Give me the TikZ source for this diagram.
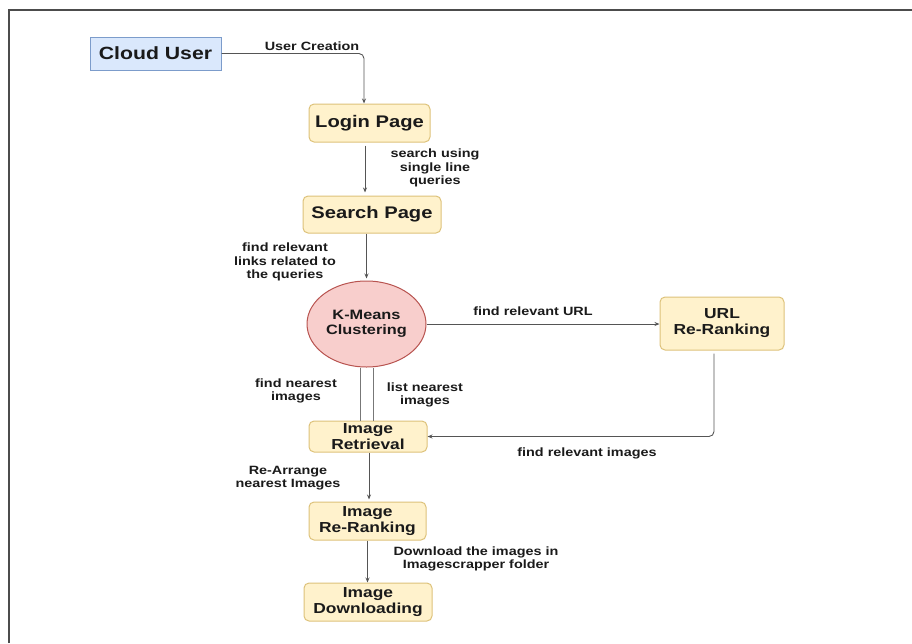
\documentclass[tikz,border=0pt]{standalone}
\usepackage{fontspec}
\setmainfont{Liberation Sans}[FakeStretch=1.2]
\usetikzlibrary{arrows.meta, shapes.geometric}

\definecolor{userfill}{HTML}{DAE8FC}
\definecolor{userline}{HTML}{7C9CCB}
\definecolor{pagefill}{HTML}{FFF2CC}
\definecolor{pageline}{HTML}{DDC27A}
\definecolor{clusterfill}{HTML}{F8CECC}
\definecolor{clusterline}{HTML}{B85450}
\definecolor{flowline}{HTML}{555555}
\definecolor{inktext}{HTML}{1A1A1A}

\begin{document}
\begin{tikzpicture}[x=1pt, y=-1pt,
  userbox/.style={draw=userline, fill=userfill, line width=1pt, text=inktext,
    font=\fontsize{17.7}{20}\selectfont\bfseries},
  pagebox/.style={draw=pageline, fill=pagefill, line width=1pt, rounded corners=5pt,
    align=center, text=inktext, font=\fontsize{14.5}{16}\selectfont\bfseries},
  bigpage/.style={pagebox, font=\fontsize{16.8}{19}\selectfont\bfseries},
  cluster/.style={ellipse, draw=clusterline, fill=clusterfill, line width=1pt,
    align=center, text=inktext, font=\fontsize{13.6}{15.5}\selectfont\bfseries},
  lbl/.style={align=center, text=inktext, inner sep=0pt,
    font=\fontsize{12}{13.5}\selectfont\bfseries},
  flow/.style={draw=flowline, line width=0.9pt, -{Stealth[length=5pt, width=4pt]}},
  link/.style={draw=flowline!80, line width=1.6pt}]
\useasboundingbox (0,0) rectangle (912,643);

% Draw frame.
\draw[line width=2pt, black!70] (9,643) -- (9,10) -- (912,10);

% Draw steps.
\node[userbox, minimum width=131pt, minimum height=33pt] (user) at (155.5,53.5) {Cloud User};
\node[bigpage, minimum width=121pt, minimum height=38pt] (login) at (369.5,123) {Login Page};
\node[bigpage, minimum width=138pt, minimum height=37pt] (search) at (372,214.5) {Search Page};
\node[cluster, minimum width=119pt, minimum height=86pt, inner sep=0pt] (kmeans) at (366.5,324) {K-Means\\Clustering};
\node[pagebox, minimum width=124pt, minimum height=53pt] (url) at (722,323.5) {URL\\Re-Ranking};
\node[pagebox, minimum width=118pt, minimum height=31pt, inner sep=0pt] (retrieval) at (368,436.5) {Image\\Retrieval};
\node[pagebox, minimum width=117pt, minimum height=38pt, inner sep=0pt] (rerank) at (367.5,521) {Image\\Re-Ranking};
\node[pagebox, minimum width=128pt, minimum height=38pt, inner sep=0pt] (download) at (368,602) {Image\\Downloading};

% Draw connectors.
\draw[flow, rounded corners=5pt] (user.east) -| ([xshift=-5.5pt]login.north);
\draw[flow, shorten <=3pt, shorten >=3pt] ([xshift=-4.5pt]login.south) -- ([xshift=-4.5pt]login.south |- search.north);
\draw[flow, shorten >=2pt] (search.south -| kmeans.north) -- (kmeans.north);
\draw[flow] (kmeans.east) -- (kmeans.east -| url.west);
\draw[flow, rounded corners=5pt, shorten <=3pt] ([xshift=-8pt]url.south) |- (retrieval.east);
\draw[link] ([xshift=-6pt]kmeans.south) -- ([xshift=-6pt]kmeans.south |- retrieval.north);
\draw[link] ([xshift=7pt]kmeans.south) -- ([xshift=7pt]kmeans.south |- retrieval.north);
\draw[flow, shorten >=2pt] ([xshift=1pt]retrieval.south) -- ([xshift=1pt]retrieval.south |- rerank.north);
\draw[flow] (rerank.south) -- (rerank.south |- download.north);

% Draw labels.
\node[lbl] (creation) at (312,46) {User Creation};
\node[lbl] (querying) at (435,168) {search using\\single line\\queries};
\node[lbl] (links) at (285,262) {find relevant\\links related to\\the queries};
\node[lbl] (findurl) at (533,311) {find relevant URL};
\node[lbl] (findimg) at (587,453) {find relevant images};
\node[lbl] (nearest) at (296,391) {find nearest\\images};
\node[lbl] (listing) at (425,395) {list nearest\\images};
\node[lbl] (arrange) at (288,478) {Re-Arrange\\nearest Images};
\node[lbl] (saving) at (476,559) {Download the images in\\Imagescrapper folder};
\end{tikzpicture}
\end{document}
